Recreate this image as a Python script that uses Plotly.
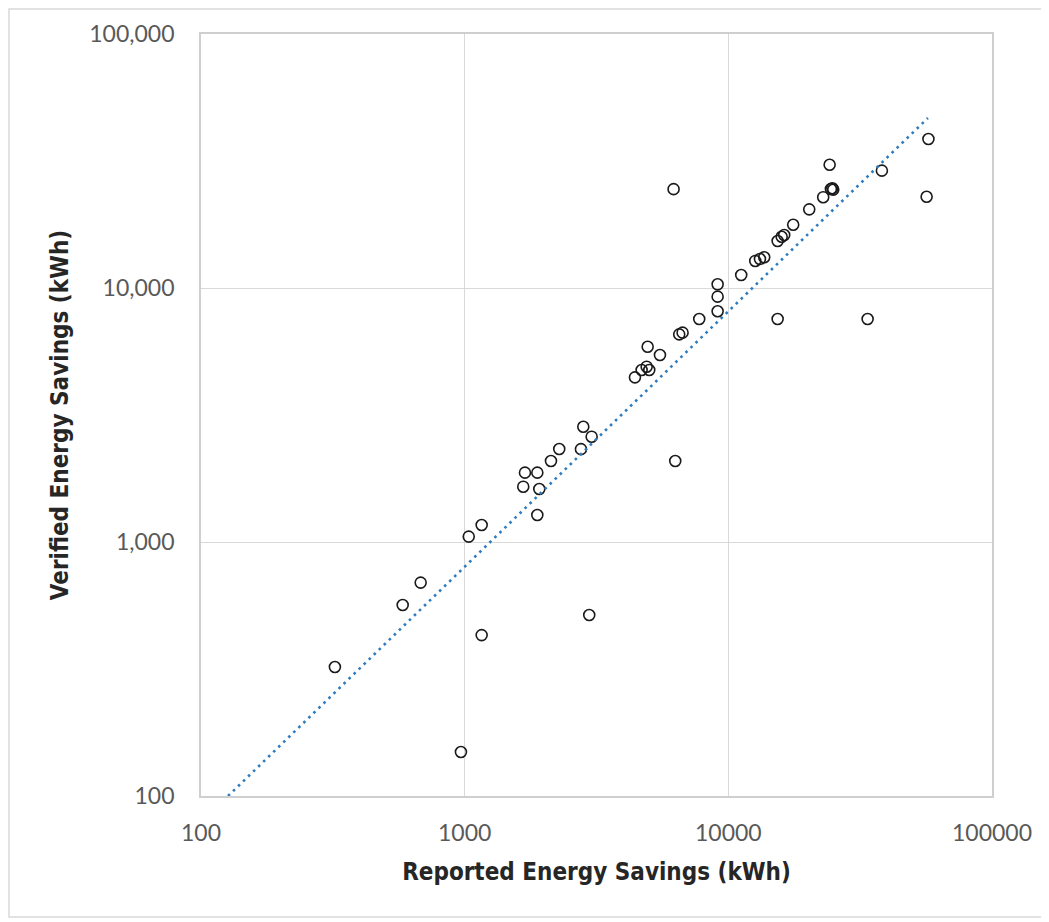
import plotly.graph_objects as go

# Reported vs verified savings (kWh)
reported = [322, 968, 582, 681, 1036, 1160, 1160, 2968, 1693, 1886,
            1668, 1919, 1886, 2125, 2284, 2761, 2818, 3031, 6290, 4424,
            4690, 4900, 5012, 4943, 5504, 6512, 6707, 7756, 9108, 9108,
            9108, 15380, 33750, 11190, 12650, 13180, 13680, 15380, 15930, 16290,
            17620, 20270, 22900, 24490, 24800, 25000, 24220, 38230, 56500, 57400,
            6200]
verified = [322, 149, 565, 692, 1050, 1167, 430, 516, 1875, 1875,
            1651, 1617, 1277, 2084, 2323, 2320, 2844, 2598, 2084, 4448,
            4753, 4900, 4753, 5870, 5447, 6570, 6672, 7550, 8100, 9245,
            10340, 7550, 7550, 11250, 12780, 13010, 13210, 15310, 15920, 16170,
            17750, 20400, 22780, 24540, 24700, 24400, 30580, 28970, 22880, 38600,
            24500]

# trendline end points
trend_x = [126.6, 57150]
trend_y = [100, 46700]

x_ticks = [100, 1000, 10000, 100000]
x_labels = ["100", "1000", "10000", "100000"]
y_ticks = [100, 1000, 10000, 100000]
y_labels = ["100", "1,000", "10,000", "100,000"]

fig = go.Figure()

fig.add_trace(go.Scatter(
    x=reported, y=verified, mode="markers",
    marker=dict(symbol="circle-open", size=11, color="#1a1a1a", line=dict(width=1.6)),
    showlegend=False, cliponaxis=False,
))

fig.add_trace(go.Scatter(
    x=trend_x, y=trend_y, mode="lines",
    line=dict(color="#2e7bbf", width=2.6, dash="2.6px,4.4px"),
    showlegend=False,
))

tick_font = dict(family="Lato, 'Open Sans', sans-serif", size=23, color="#595959")
title_font = dict(family="'Liberation Sans Narrow', 'DejaVu Sans Condensed', sans-serif",
                  size=24, color="#262626")

fig.update_xaxes(
    type="log", range=[2, 5],
    tickvals=x_ticks, ticktext=x_labels, tickfont=tick_font,
    showgrid=True, gridcolor="#d9d9d9", gridwidth=1.3,
    showline=True, linecolor="#cfcfcf", linewidth=1.8, mirror=True,
    ticks="", ticklabelstandoff=15, zeroline=False,
    title=dict(text="<b>Reported Energy Savings (kWh)</b>", font=title_font, standoff=19),
)
fig.update_yaxes(
    type="log", range=[2, 5],
    tickvals=y_ticks, ticktext=y_labels, tickfont=tick_font,
    showgrid=True, gridcolor="#d9d9d9", gridwidth=1.3,
    showline=True, linecolor="#cfcfcf", linewidth=1.8, mirror=True,
    ticks="", ticklabelstandoff=20, zeroline=False,
    title=dict(text="<b>Verified Energy Savings (kWh)</b>", font=title_font, standoff=14),
)

# outer chart-area frame
fig.add_shape(type="rect", xref="paper", yref="paper",
              x0=-192 / 791, x1=845 / 791, y0=-121 / 762, y1=787 / 762,
              line=dict(color="#d9d9d9", width=1.5), fillcolor="rgba(0,0,0,0)", layer="below")

fig.update_layout(
    width=1049, height=922,
    margin=dict(l=193, r=65, t=26, b=134),
    plot_bgcolor="white", paper_bgcolor="white",
)

fig.write_html("out.html")
